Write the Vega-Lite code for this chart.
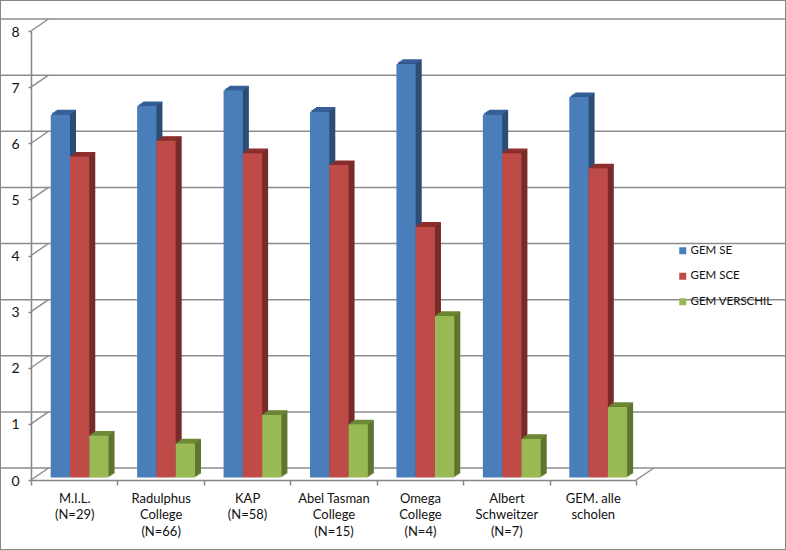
{
"$schema":"https://vega.github.io/schema/vega-lite/v6.json",
"width":786,"height":550,"padding":0,"autosize":{"type":"none"},
"background":"white",
"view":{"stroke":"#868686","strokeWidth":2,"fill":"white"},
"config":{"font":"Lato","axis":{"labelFont":"Lato","labelColor":"#111111"},"legend":{"labelFont":"Lato"}},
"datasets":{
"grid":[{"v":0,"cat":"M.I.L.\n(N=29)"},{"v":1,"cat":"M.I.L.\n(N=29)"},{"v":2,"cat":"M.I.L.\n(N=29)"},{"v":3,"cat":"M.I.L.\n(N=29)"},{"v":4,"cat":"M.I.L.\n(N=29)"},{"v":5,"cat":"M.I.L.\n(N=29)"},{"v":6,"cat":"M.I.L.\n(N=29)"},{"v":7,"cat":"M.I.L.\n(N=29)"},{"v":8,"cat":"M.I.L.\n(N=29)"}],
"end":[{"v":0,"cat":"GEM. alle\nscholen"}],
"bars":[
{"cat":"M.I.L.\n(N=29)","series":"GEM SE","value":6.47},{"cat":"M.I.L.\n(N=29)","series":"GEM SCE","value":5.72},{"cat":"M.I.L.\n(N=29)","series":"GEM VERSCHIL","value":0.75},
{"cat":"Radulphus\nCollege\n(N=66)","series":"GEM SE","value":6.62},{"cat":"Radulphus\nCollege\n(N=66)","series":"GEM SCE","value":6.0},{"cat":"Radulphus\nCollege\n(N=66)","series":"GEM VERSCHIL","value":0.61},
{"cat":"KAP\n(N=58)","series":"GEM SE","value":6.9},{"cat":"KAP\n(N=58)","series":"GEM SCE","value":5.78},{"cat":"KAP\n(N=58)","series":"GEM VERSCHIL","value":1.12},
{"cat":"Abel Tasman\nCollege\n(N=15)","series":"GEM SE","value":6.52},{"cat":"Abel Tasman\nCollege\n(N=15)","series":"GEM SCE","value":5.57},{"cat":"Abel Tasman\nCollege\n(N=15)","series":"GEM VERSCHIL","value":0.95},
{"cat":"Omega\nCollege\n(N=4)","series":"GEM SE","value":7.37},{"cat":"Omega\nCollege\n(N=4)","series":"GEM SCE","value":4.47},{"cat":"Omega\nCollege\n(N=4)","series":"GEM VERSCHIL","value":2.88},
{"cat":"Albert\nSchweitzer\n(N=7)","series":"GEM SE","value":6.47},{"cat":"Albert\nSchweitzer\n(N=7)","series":"GEM SCE","value":5.78},{"cat":"Albert\nSchweitzer\n(N=7)","series":"GEM VERSCHIL","value":0.69},
{"cat":"GEM. alle\nscholen","series":"GEM SE","value":6.78},{"cat":"GEM. alle\nscholen","series":"GEM SCE","value":5.51},{"cat":"GEM. alle\nscholen","series":"GEM VERSCHIL","value":1.26}
]},
"layer":[
{"data":{"name":"grid"},"mark":{"type":"rule","color":"#8c8c8c","strokeWidth":1.5,"xOffset":48,"x2Offset":-132,"yOffset":-12},
 "encoding":{"y":{"field":"v","type":"quantitative",
   "scale":{"domain":[0,8],"range":[480,31],"nice":false},
   "axis":{"title":null,"values":[0,1,2,3,4,5,6,7,8],"format":"d","grid":false,"offset":-31,"domainColor":"#868686","domainWidth":1.5,"tickColor":"#868686","tickSize":3,"tickWidth":1.5,"labelFontSize":14,"labelPadding":9,"labelOffset":1}}}},
{"data":{"name":"grid"},"mark":{"type":"rule","color":"#8c8c8c","strokeWidth":1.5,"x2Offset":-25.7,"y2Offset":-12},
 "encoding":{"y":{"field":"v","type":"quantitative"},"y2":{"field":"v"},
   "x":{"field":"cat","type":"nominal","bandPosition":0},"x2":{"field":"cat"}}},
{"data":{"name":"end"},"mark":{"type":"rule","color":"#8c8c8c","strokeWidth":1.5,"x2Offset":61.2,"y2Offset":-12},
 "encoding":{"y":{"field":"v","type":"quantitative"},"y2":{"field":"v"},
   "x":{"field":"cat","type":"nominal","bandPosition":1},"x2":{"field":"cat"}}},
{"data":{"name":"bars"},
 "encoding":{
  "x":{"field":"cat","type":"nominal",
    "scale":{"domain":["M.I.L.\n(N=29)","Radulphus\nCollege\n(N=66)","KAP\n(N=58)","Abel Tasman\nCollege\n(N=15)","Omega\nCollege\n(N=4)","Albert\nSchweitzer\n(N=7)","GEM. alle\nscholen"],"range":[31,636],"paddingInner":0,"paddingOuter":0},
    "axis":{"title":null,"labelAngle":0,"labelAlign":"center","offset":-70,"labelExpr":"split(datum.label,'\\n')","labelFontSize":13,"labelLineHeight":16.5,"labelPadding":7,"labelBaseline":"top","tickBand":"extent","tickSize":5,"tickWidth":1.5,"tickColor":"#868686","domainColor":"#868686","domainWidth":1.5,"labelLimit":120}},
  "y":{"field":"value","type":"quantitative"}
 },
 "layer":[
  {"transform":[{"filter":"datum.series==='GEM SE'"}],"layer":[
   {"mark":{"type":"bar","width":19.3,"fill":"#2C4D75","xOffset":-7.85,"yOffset":-6.4,"y2Offset":-6.4},"encoding":{"y2":{"datum":0}}},
   {"mark":{"type":"bar","width":19.3,"fill":"#2C4D75","xOffset":-9.35,"yOffset":-5.4,"y2Offset":-5.4},"encoding":{"y2":{"datum":0}}},
   {"mark":{"type":"bar","width":19.3,"fill":"#2C4D75","xOffset":-10.85,"yOffset":-4.4,"y2Offset":-4.4},"encoding":{"y2":{"datum":0}}},
   {"mark":{"type":"bar","width":19.3,"fill":"#2C4D75","xOffset":-12.35,"yOffset":-3.4,"y2Offset":-3.4},"encoding":{"y2":{"datum":0}}},
   {"mark":{"type":"bar","width":19.3,"filled":false,"stroke":"#37609A","strokeWidth":1.2,"xOffset":-7.85,"yOffset":-6.4,"y2Offset":-6.4},"encoding":{"y2":{"field":"value"}}},
   {"mark":{"type":"bar","width":19.3,"filled":false,"stroke":"#37609A","strokeWidth":1.2,"xOffset":-9.35,"yOffset":-5.4,"y2Offset":-5.4},"encoding":{"y2":{"field":"value"}}},
   {"mark":{"type":"bar","width":19.3,"filled":false,"stroke":"#37609A","strokeWidth":1.2,"xOffset":-10.85,"yOffset":-4.4,"y2Offset":-4.4},"encoding":{"y2":{"field":"value"}}},
   {"mark":{"type":"bar","width":19.3,"filled":false,"stroke":"#37609A","strokeWidth":1.2,"xOffset":-12.35,"yOffset":-3.4,"y2Offset":-3.4},"encoding":{"y2":{"field":"value"}}},
   {"mark":{"type":"bar","width":19.3,"xOffset":-13.85,"yOffset":-2.4,"y2Offset":-2.4},"encoding":{"y2":{"datum":0},"color":{"field":"series","type":"nominal","title":null,
      "scale":{"domain":["GEM SE","GEM SCE","GEM VERSCHIL"],"range":["#4A7EBB","#BE4B48","#98B954"]},
      "legend":{"orient":"none","legendX":677,"legendY":245,"symbolType":"square","symbolSize":49,"labelFontSize":11.5,"labelColor":"#111111","rowPadding":12.5,"labelOffset":2,"padding":0}}}}
  ]},
  {"transform":[{"filter":"datum.series==='GEM SCE'"}],"layer":[
   {"mark":{"type":"bar","width":19.3,"fill":"#772C2A","xOffset":11.4,"yOffset":-6.4,"y2Offset":-6.4},"encoding":{"y2":{"datum":0}}},
   {"mark":{"type":"bar","width":19.3,"fill":"#772C2A","xOffset":9.9,"yOffset":-5.4,"y2Offset":-5.4},"encoding":{"y2":{"datum":0}}},
   {"mark":{"type":"bar","width":19.3,"fill":"#772C2A","xOffset":8.4,"yOffset":-4.4,"y2Offset":-4.4},"encoding":{"y2":{"datum":0}}},
   {"mark":{"type":"bar","width":19.3,"fill":"#772C2A","xOffset":6.9,"yOffset":-3.4,"y2Offset":-3.4},"encoding":{"y2":{"datum":0}}},
   {"mark":{"type":"bar","width":19.3,"filled":false,"stroke":"#8E2E2C","strokeWidth":1.2,"xOffset":11.4,"yOffset":-6.4,"y2Offset":-6.4},"encoding":{"y2":{"field":"value"}}},
   {"mark":{"type":"bar","width":19.3,"filled":false,"stroke":"#8E2E2C","strokeWidth":1.2,"xOffset":9.9,"yOffset":-5.4,"y2Offset":-5.4},"encoding":{"y2":{"field":"value"}}},
   {"mark":{"type":"bar","width":19.3,"filled":false,"stroke":"#8E2E2C","strokeWidth":1.2,"xOffset":8.4,"yOffset":-4.4,"y2Offset":-4.4},"encoding":{"y2":{"field":"value"}}},
   {"mark":{"type":"bar","width":19.3,"filled":false,"stroke":"#8E2E2C","strokeWidth":1.2,"xOffset":6.9,"yOffset":-3.4,"y2Offset":-3.4},"encoding":{"y2":{"field":"value"}}},
   {"mark":{"type":"bar","width":19.3,"xOffset":5.4,"yOffset":-2.4,"y2Offset":-2.4},"encoding":{"y2":{"datum":0},"color":{"field":"series","type":"nominal","title":null}}}
  ]},
  {"transform":[{"filter":"datum.series==='GEM VERSCHIL'"}],"layer":[
   {"mark":{"type":"bar","width":19.3,"fill":"#5F7530","xOffset":30.7,"yOffset":-6.4,"y2Offset":-6.4},"encoding":{"y2":{"datum":0}}},
   {"mark":{"type":"bar","width":19.3,"fill":"#5F7530","xOffset":29.2,"yOffset":-5.4,"y2Offset":-5.4},"encoding":{"y2":{"datum":0}}},
   {"mark":{"type":"bar","width":19.3,"fill":"#5F7530","xOffset":27.7,"yOffset":-4.4,"y2Offset":-4.4},"encoding":{"y2":{"datum":0}}},
   {"mark":{"type":"bar","width":19.3,"fill":"#5F7530","xOffset":26.2,"yOffset":-3.4,"y2Offset":-3.4},"encoding":{"y2":{"datum":0}}},
   {"mark":{"type":"bar","width":19.3,"filled":false,"stroke":"#6D8A36","strokeWidth":1.2,"xOffset":30.7,"yOffset":-6.4,"y2Offset":-6.4},"encoding":{"y2":{"field":"value"}}},
   {"mark":{"type":"bar","width":19.3,"filled":false,"stroke":"#6D8A36","strokeWidth":1.2,"xOffset":29.2,"yOffset":-5.4,"y2Offset":-5.4},"encoding":{"y2":{"field":"value"}}},
   {"mark":{"type":"bar","width":19.3,"filled":false,"stroke":"#6D8A36","strokeWidth":1.2,"xOffset":27.7,"yOffset":-4.4,"y2Offset":-4.4},"encoding":{"y2":{"field":"value"}}},
   {"mark":{"type":"bar","width":19.3,"filled":false,"stroke":"#6D8A36","strokeWidth":1.2,"xOffset":26.2,"yOffset":-3.4,"y2Offset":-3.4},"encoding":{"y2":{"field":"value"}}},
   {"mark":{"type":"bar","width":19.3,"xOffset":24.7,"yOffset":-2.4,"y2Offset":-2.4},"encoding":{"y2":{"datum":0},"color":{"field":"series","type":"nominal","title":null}}}
  ]}
 ]}
]
}
